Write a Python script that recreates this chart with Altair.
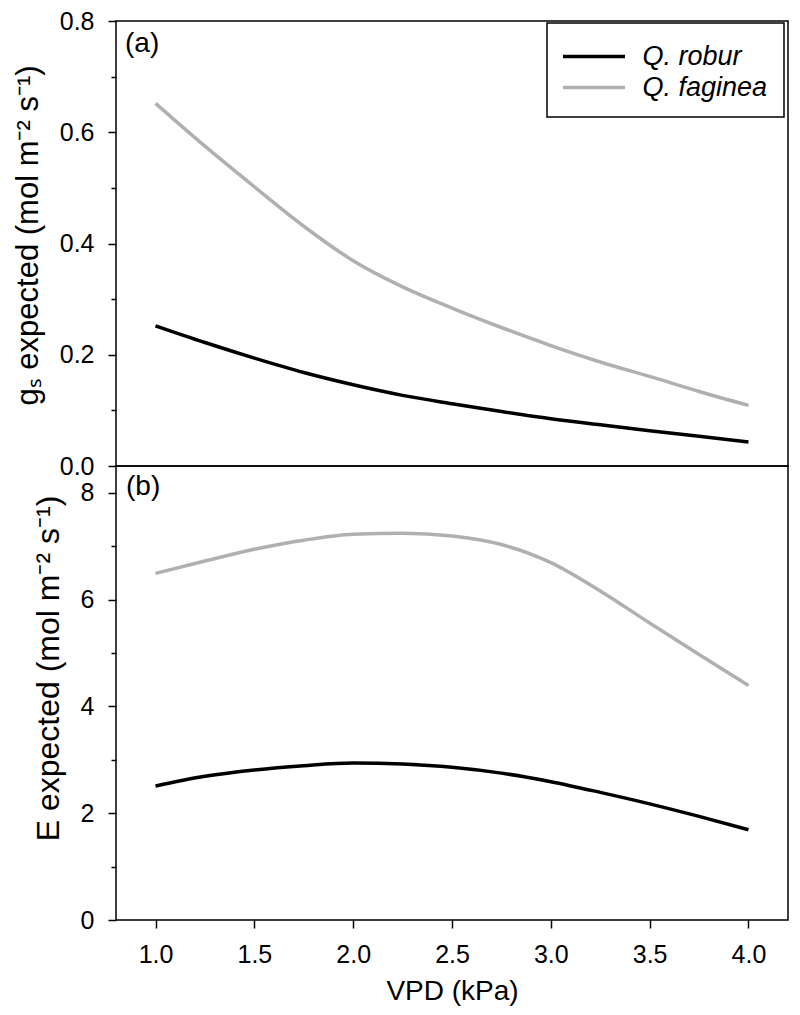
import altair as alt
import pandas as pd

# ---- data ----
vpd = [1.0, 1.25, 1.5, 1.75, 2.0, 2.25, 2.5, 2.75, 3.0, 3.25, 3.5, 3.75, 4.0]
gs_robur = [0.252, 0.222, 0.194, 0.168, 0.146, 0.127, 0.112, 0.098, 0.085, 0.074, 0.0635, 0.0535, 0.043]
gs_faginea = [0.652, 0.575, 0.502, 0.431, 0.369, 0.322, 0.284, 0.249, 0.2165, 0.187, 0.161, 0.134, 0.109]
E_robur = [2.51, 2.69, 2.81, 2.89, 2.94, 2.92, 2.86, 2.75, 2.59, 2.39, 2.175, 1.94, 1.69]
E_faginea = [6.49, 6.72, 6.94, 7.11, 7.22, 7.24, 7.19, 7.03, 6.69, 6.16, 5.56, 4.97, 4.39]
species = ["Q. robur", "Q. faginea"]
colors = ["#000000", "#b0b0b0"]
x_ticks = [1.0, 1.5, 2.0, 2.5, 3.0, 3.5, 4.0]
gs_ticks = [0.0, 0.1, 0.2, 0.3, 0.4, 0.5, 0.6, 0.7, 0.8]
E_ticks = [0, 1, 2, 3, 4, 5, 6, 7, 8]
x_domain = [0.8, 4.2]
gs_domain = [0, 0.8]
E_domain = [0, 8.5]

rows = []
for i, v in enumerate(vpd):
    rows.append({"vpd": v, "species": species[0], "gs": gs_robur[i], "E": E_robur[i]})
    rows.append({"vpd": v, "species": species[1], "gs": gs_faginea[i], "E": E_faginea[i]})
df = pd.DataFrame(rows)

FONT = "Liberation Sans"
W = 672

xscale = alt.Scale(domain=x_domain, nice=False, zero=False)
cscale = alt.Scale(domain=species, range=colors)

legend = alt.Legend(
    title=None, orient="none", legendX=431, legendY=2,
    strokeColor="black", padding=16, fillColor="white",
    symbolType="M-2,0H2", symbolSize=961, symbolStrokeWidth=3.5,
    symbolOffset=13.5, labelOffset=31, rowPadding=-2,
    labelFontSize=27, labelFontStyle="italic", labelFont=FONT,
    labelColor="black",
)

top_lines = alt.Chart(df).mark_line(strokeWidth=3.5, interpolate="monotone").encode(
    x=alt.X("vpd:Q", scale=xscale, axis=None),
    y=alt.Y("gs:Q", scale=alt.Scale(domain=gs_domain, nice=False),
            axis=alt.Axis(
                values=gs_ticks,
                labelExpr="round(datum.value*10) % 2 == 0 ? format(datum.value, '.1f') : ''",
                tickSize={"condition": {"test": "round(datum.value*10) % 2 != 0", "value": 5}, "value": 8},
                title="gₛ expected (mol m⁻² s⁻¹)", titleFontSize=31, titleY=214,
            )),
    color=alt.Color("species:N", scale=cscale, sort=species, legend=legend),
)
top_label = alt.Chart().mark_text(
    text="(a)", align="left", baseline="top", dx=9, dy=9,
    font=FONT, fontSize=28, color="black",
).encode(x=alt.datum(x_domain[0]), y=alt.datum(gs_domain[1]))
top = alt.layer(top_lines, top_label).properties(width=W, height=445)

bottom_lines = alt.Chart(df).mark_line(strokeWidth=3.5, interpolate="monotone").encode(
    x=alt.X("vpd:Q", scale=xscale,
            axis=alt.Axis(values=x_ticks, format=".1f", title="VPD (kPa)", tickSize=8,
                          labelPadding=14, titlePadding=10, titleFontSize=28)),
    y=alt.Y("E:Q", scale=alt.Scale(domain=E_domain, nice=False),
            axis=alt.Axis(
                values=E_ticks,
                labelExpr="datum.value % 2 == 0 ? format(datum.value, 'd') : ''",
                tickSize={"condition": {"test": "datum.value % 2 != 0", "value": 5}, "value": 8},
                title="E expected (mol m⁻² s⁻¹)", titleFontSize=32, titleY=202,
            )),
    color=alt.Color("species:N", scale=cscale, legend=None),
)
bottom_label = alt.Chart().mark_text(
    text="(b)", align="left", baseline="top", dx=10, dy=7,
    font=FONT, fontSize=28, color="black",
).encode(x=alt.datum(x_domain[0]), y=alt.datum(E_domain[1]))
bottom = alt.layer(bottom_lines, bottom_label).properties(width=W, height=454)

chart = alt.vconcat(top, bottom, spacing=0, bounds="flush").resolve_scale(
    y="independent"
).resolve_axis(y="independent", x="independent").configure_view(
    stroke="black", strokeWidth=1.5
).configure_axis(
    labelFont=FONT, titleFont=FONT, labelFontSize=25, titleFontSize=30,
    titleFontWeight="normal", labelColor="black", titleColor="black",
    tickColor="black", tickWidth=1.5, domain=False, grid=False,
    labelPadding=14, titlePadding=15,
).configure_legend(strokeWidth=1.5).properties(
    padding={"left": 3, "top": 0, "right": 0, "bottom": 0}
)

chart.save("out.html", embed_options={"renderer": "svg", "actions": False})
